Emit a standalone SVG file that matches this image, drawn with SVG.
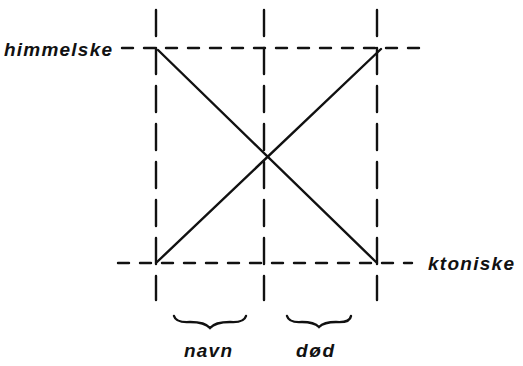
<svg xmlns="http://www.w3.org/2000/svg" width="523" height="366" viewBox="0 0 523 366">
<style>
.d{stroke:#111;stroke-width:2.4;fill:none;stroke-linecap:round}
.v{stroke-dasharray:26 12}
.h{stroke-dasharray:11 11}
.t{font-family:"Liberation Sans",sans-serif;font-style:italic;font-weight:bold;font-size:19px;fill:#111}
</style>
<rect width="523" height="366" fill="#fff"/>
<g id="connectors">
<line class="d v" x1="156" y1="10" x2="156" y2="300"/>
<line class="d v" x1="264" y1="10" x2="264" y2="300"/>
<line class="d v" x1="377" y1="10" x2="377" y2="300"/>
<line class="d h" x1="122" y1="48" x2="420" y2="48"/>
<line class="d h" x1="118" y1="263" x2="412" y2="263"/>
<line class="d" x1="158" y1="50" x2="376" y2="262"/>
<line class="d" x1="157" y1="262" x2="381" y2="49"/>
<path class="d" d="M174,316 Q176,323 190,322 Q205,322 210,328 Q215,322 230,322 Q244,323 246,316"/>
<path class="d" d="M287,316 Q289,323 302,322 Q314,322 319,327 Q324,322 336,322 Q350,323 351,316"/>
</g>
<g id="himmelske"><text class="t" x="4" y="56" textLength="108">himmelske</text></g>
<g id="ktoniske"><text class="t" x="428" y="270" textLength="86">ktoniske</text></g>
<g id="navn"><text class="t" x="184" y="357" textLength="48">navn</text></g>
<g id="dod"><text class="t" x="296" y="357" textLength="38">død</text></g>
</svg>
